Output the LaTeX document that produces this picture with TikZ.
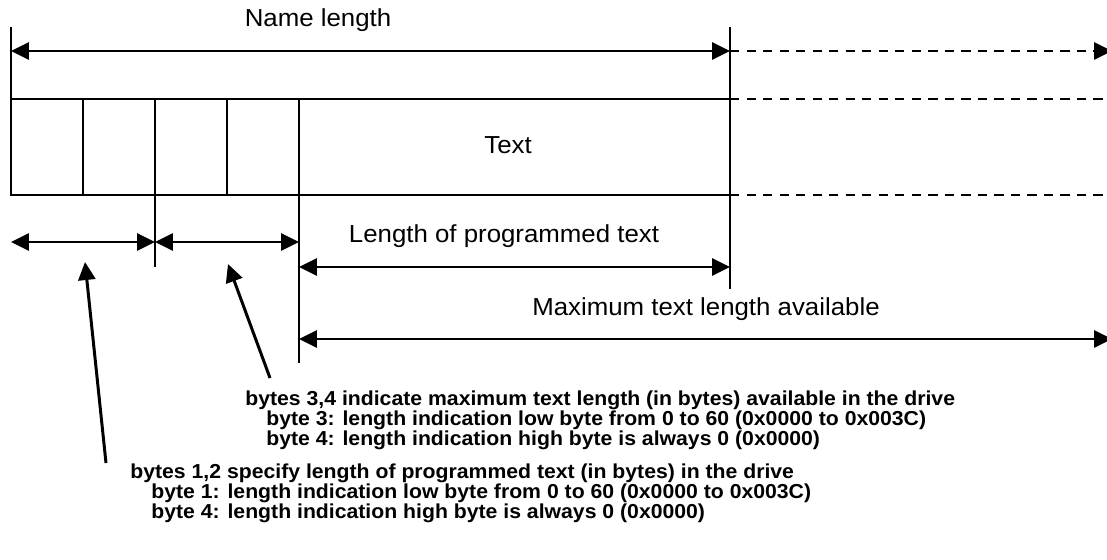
\documentclass[tikz,border=0pt]{standalone}
\usepackage{fontspec}
\setmainfont{Liberation Sans}[FakeStretch=1.05]
\usetikzlibrary{arrows.meta}

\tikzset{
  >={Triangle[length=0.36cm,width=0.34cm]},
  boxline/.style={line width=1.1pt},
  guide/.style={line width=0.75pt},
  dimline/.style={line width=1.7pt},
  dashline/.style={line width=1.5pt, dash pattern=on 5.3pt off 4.1pt},
  lbl/.style={font=\fontsize{14}{16}\selectfont, inner sep=0pt},
  note/.style={font=\fontsize{11.5}{11.3}\selectfont\bfseries, align=left, inner sep=0pt, anchor=north west},
}

\begin{document}
\begin{tikzpicture}[x=0.02cm, y=-0.02cm]
  \useasboundingbox (0,0) rectangle (1107,560);
  % --- the name record: four length bytes and the text field -------------
  \draw[boxline] (11,99) rectangle (730,195);
  \foreach \x [count=\i] in {83,155,227,299} {
     \draw[boxline] (\x,99) -- (\x,195);
  }
  \node[lbl] (txt) at (508,145) {Text};
  \draw[dashline] (730,99) -- (1110,99);
  \draw[dashline] (730,195) -- (1104,195);
  % --- guide lines ---------------------------------------------------------
  \draw[guide] (11,27) -- (11,195);
  \draw[guide] (730,27) -- (730,289);
  \draw[guide] (155,195) -- (155,267);
  \draw[guide] (299,195) -- (299,363);
  % --- dimension arrows ----------------------------------------------------
  \coordinate (nl0) at (11,51);  \coordinate (nl1) at (730,51);  \coordinate (nl2) at (1112,51);
  \coordinate (b12a) at (11,242); \coordinate (b12b) at (155,242); \coordinate (b34b) at (299,242);
  \coordinate (pt0) at (299,267); \coordinate (pt1) at (730,267);
  \coordinate (mx0) at (299,339); \coordinate (mx1) at (1112,339);
  \draw[dimline,<->] (nl0) -- (nl1);
  \draw[dimline,dash pattern=on 5.3pt off 4.1pt,->] (nl1) -- (nl2);
  \draw[dimline,<->] (b12a) -- (b12b);
  \draw[dimline,<->] (b12b) -- (b34b);
  \draw[dimline,<->] (pt0) -- (pt1);
  \draw[dimline,<->] (mx0) -- (mx1);
  \node[lbl,anchor=base] (nlab) at (318,27) {Name length};
  \node[lbl,anchor=base] (ptlab) at (504,243) {Length of programmed text};
  \node[lbl,anchor=base] (mxlab) at (706,316) {Maximum text length available};
  % --- notes and their pointers -------------------------------------------
  \node[note] (n34) at (245,391) {bytes 3,4 indicate maximum text length (in bytes) available in the drive\\
     \hspace*{0.42cm}byte 3: length indication low byte from 0 to 60 (0x0000 to 0x003C)\\
     \hspace*{0.42cm}byte 4: length indication high byte is always 0 (0x0000)};
  \node[note] (n12) at (130,464) {bytes 1,2 specify length of programmed text (in bytes) in the drive\\
     \hspace*{0.42cm}byte 1: length indication low byte from 0 to 60 (0x0000 to 0x003C)\\
     \hspace*{0.42cm}byte 4: length indication high byte is always 0 (0x0000)};
  \coordinate (p34) at (270,378); \coordinate (p34t) at (228,264);
  \coordinate (p12) at (106,463); \coordinate (p12t) at (85,262);
  \draw[dimline,->] (p34) -- (p34t);
  \draw[dimline,->] (p12) -- (p12t);
\end{tikzpicture}
\end{document}
